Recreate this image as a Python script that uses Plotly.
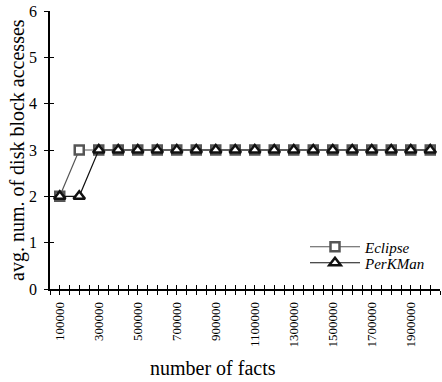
import plotly.graph_objects as go

facts = [100000, 200000, 300000, 400000, 500000, 600000, 700000, 800000, 900000, 1000000,
         1100000, 1200000, 1300000, 1400000, 1500000, 1600000, 1700000, 1800000, 1900000, 2000000]
eclipse = [2, 3, 3, 3, 3, 3, 3, 3, 3, 3, 3, 3, 3, 3, 3, 3, 3, 3, 3, 3]
perkman = [2, 2, 3, 3, 3, 3, 3, 3, 3, 3, 3, 3, 3, 3, 3, 3, 3, 3, 3, 3]
x_ticks = [100000, 300000, 500000, 700000, 900000, 1100000, 1300000, 1500000, 1700000, 1900000]
y_ticks = [0, 1, 2, 3, 4, 5, 6]

FONT = "Liberation Serif, Times New Roman, serif"

W, H = 442, 382
ML, MR, MT, MB = 20, 2, 11, 93
AXIS_X = 50  # pixel position of the y axis line
plot_w = W - ML - MR
plot_h = H - MT - MB


def px_x(p):
    return (p - ML) / plot_w


def px_y(p):
    return (H - MB - p) / plot_h


x_domain = [px_x(AXIS_X), 1]

fig = go.Figure()
fig.add_trace(go.Scatter(
    x=facts, y=eclipse, name="Eclipse", mode="lines+markers", legend="legend",
    line=dict(color="#555555", width=1.2),
    marker=dict(symbol="square", size=9, color="white", line=dict(color="#555555", width=2.5)),
))
fig.add_trace(go.Scatter(
    x=facts, y=perkman, name="PerKMan", mode="lines+markers", legend="legend2",
    line=dict(color="#111111", width=1.2),
    marker=dict(symbol="triangle-up", size=10, color="white", line=dict(color="#111111", width=2.5)),
))

# overlay axes: inside halves of crossing ticks, and a free axis carrying the y labels
fig.add_trace(go.Scatter(x=[None], y=[None], xaxis="x2", yaxis="y2", showlegend=False, hoverinfo="skip"))
fig.add_trace(go.Scatter(x=[None], y=[None], xaxis="x", yaxis="y3", showlegend=False, hoverinfo="skip"))

legend_common = dict(
    xanchor="left", yanchor="middle",
    bgcolor="rgba(0,0,0,0)",
    font=dict(family=FONT, size=15, style="italic", color="black"),
    itemwidth=50,
)

fig.update_layout(
    width=W, height=H,
    margin=dict(l=ML, r=MR, t=MT, b=MB),
    plot_bgcolor="white", paper_bgcolor="white",
    font=dict(family=FONT, color="black"),
    showlegend=True,
    legend=dict(x=px_x(305), y=px_y(247), **legend_common),
    legend2=dict(x=px_x(305), y=px_y(263), **legend_common),
    xaxis=dict(
        domain=x_domain, range=[50000, 2050000],
        tickmode="array", tickvals=x_ticks, ticktext=[str(v) for v in x_ticks],
        tickangle=-90, tickfont=dict(family=FONT, size=13),
        ticks="", showgrid=False, zeroline=False, ticklabelstandoff=6,
        showline=True, linecolor="black", linewidth=1.5,
        minor=dict(dtick=50000, tick0=50000, ticks="outside", ticklen=4, tickcolor="black", tickwidth=1, showgrid=False),
    ),
    xaxis2=dict(
        domain=x_domain, range=[50000, 2050000], overlaying="x", side="bottom", anchor="y2",
        tickmode="linear", tick0=50000, dtick=50000, ticks="inside", ticklen=4,
        tickcolor="black", showticklabels=False, showgrid=False, zeroline=False, showline=False,
    ),
    yaxis=dict(
        range=[0, 6], tickmode="array", tickvals=y_ticks, showticklabels=False,
        ticks="outside", ticklen=4, tickcolor="black",
        showgrid=False, zeroline=False,
        showline=True, linecolor="black", linewidth=1.5,
    ),
    yaxis2=dict(
        range=[0, 6], overlaying="y", side="left", anchor="x2",
        tickmode="linear", tick0=0, dtick=1, ticks="inside", ticklen=4,
        tickcolor="black", showticklabels=False, showgrid=False, zeroline=False, showline=False,
    ),
    yaxis3=dict(
        range=[0, 6], overlaying="y", side="left", anchor="free", position=px_x(37),
        tickmode="array", tickvals=y_ticks, ticks="",
        tickfont=dict(family=FONT, size=16),
        showgrid=False, zeroline=False, showline=False,
    ),
    annotations=[
        dict(text="number of facts", x=px_x(213), y=px_y(368), xref="paper", yref="paper",
             showarrow=False, font=dict(family=FONT, size=20), xanchor="center", yanchor="middle"),
        dict(text="avg. num. of disk block accesses", x=px_x(17), y=px_y(150), xref="paper", yref="paper",
             showarrow=False, textangle=-90, font=dict(family=FONT, size=20),
             xanchor="center", yanchor="middle"),
    ],
)

fig.write_html("out.html", config={"displayModeBar": False},
               post_script="document.body.style.margin='0';document.body.style.overflow='hidden';")
